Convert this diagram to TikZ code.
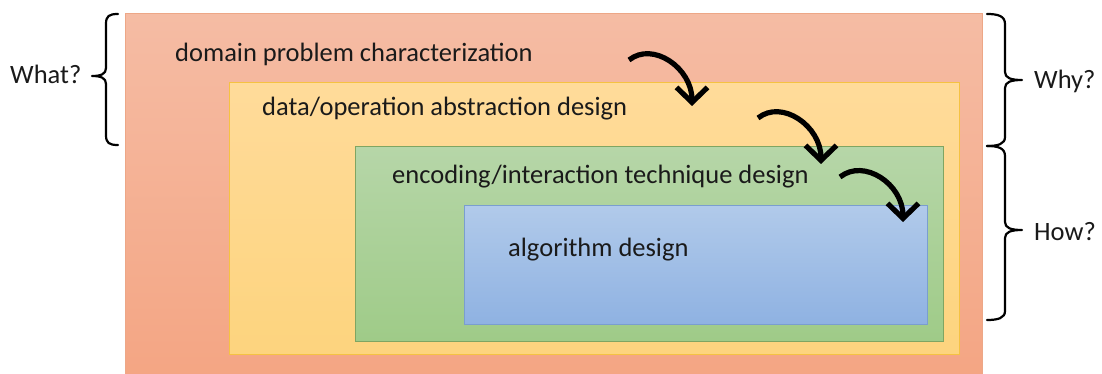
\documentclass[tikz,border=0pt]{standalone}
\usepackage{fontspec}
\setmainfont{Carlito}
\usetikzlibrary{arrows.meta}
\definecolor{txt}{HTML}{1A1A1A}
\definecolor{orTop}{HTML}{F5BCA4}
\definecolor{orBot}{HTML}{F4A583}
\definecolor{orLine}{HTML}{EDA787}
\definecolor{yeTop}{HTML}{FFDB9A}
\definecolor{yeBot}{HTML}{FDD47E}
\definecolor{yeLine}{HTML}{F5C242}
\definecolor{grTop}{HTML}{B6D6A8}
\definecolor{grBot}{HTML}{9FCB88}
\definecolor{grLine}{HTML}{7FA562}
\definecolor{blTop}{HTML}{B1CAEA}
\definecolor{blBot}{HTML}{8FB2E2}
\definecolor{blLine}{HTML}{7A9ECF}
\tikzset{
  layerbox/.style={line width=1pt},
  lab/.style={font=\fontsize{26.5}{30}\selectfont, text=txt, inner sep=0pt, anchor=base west},
  side/.style={font=\fontsize{26.5}{30}\selectfont, text=txt, inner sep=0pt, anchor=base west},
  flow/.style={line width=5.2pt, -{Straight Barb[length=15pt,width=31pt,line width=5.2pt]}},
  bracestroke/.style={line width=2.2pt, line cap=round, line join=round},
}
\begin{document}
\begin{tikzpicture}[x=1pt,y=-1pt]
\useasboundingbox (0,0) rectangle (1102,374);
\clip (0,0) rectangle (1102,374);
\fill[white] (0,0) rectangle (1102,374);
% layers
\path[layerbox, draw=orLine, top color=orTop, bottom color=orBot] (125,14) rectangle (982,380);
\path[layerbox, draw=yeLine, top color=yeTop, bottom color=yeBot] (229,83) rectangle (959,354);
\path[layerbox, draw=grLine, top color=grTop, bottom color=grBot] (355,147) rectangle (943,341);
\path[layerbox, draw=blLine, top color=blTop, bottom color=blBot] (464,205) rectangle (927,324);
% labels
\node[lab] (dom) at (175,62) {domain problem characterization};
\node[lab] (dat) at (262,116) {data/operation abstraction design};
\node[lab] (enc) at (392,183) {encoding/interaction technique design};
\node[lab] (alg) at (508,256) {algorithm design};
% arrows
\coordinate (a1s) at (629,60);  \coordinate (a1e) at (692,106);
\coordinate (a2s) at (758,118); \coordinate (a2e) at (821,164);
\coordinate (a3s) at (840,177); \coordinate (a3e) at (903,222);
\draw[flow] (a1s) .. controls ++(24,-19) and ++(0,-38) .. (a1e);
\draw[flow] (a2s) .. controls ++(24,-19) and ++(0,-38) .. (a2e);
\draw[flow] (a3s) .. controls ++(24,-19) and ++(0,-38) .. (a3e);
% braces
\draw[bracestroke] (118,14) .. controls (109,14) and (106,16) .. (106,24) -- (106,68)
  .. controls (106,74) and (101,76) .. (92,76)
  .. controls (101,76) and (106,78) .. (106,84) -- (106,135)
  .. controls (106,143) and (109,145) .. (118,145);
\draw[bracestroke] (987,14) .. controls (998,14) and (1005,16) .. (1005,24) -- (1005,72)
  .. controls (1005,78) and (1011,80) .. (1022,80)
  .. controls (1011,80) and (1005,82) .. (1005,88) -- (1005,137)
  .. controls (1005,144) and (998,146) .. (987,146);
\draw[bracestroke] (987,146) .. controls (998,146) and (1005,148) .. (1005,156) -- (1005,222)
  .. controls (1005,228) and (1011,230) .. (1022,230)
  .. controls (1011,230) and (1005,232) .. (1005,238) -- (1005,311)
  .. controls (1005,318) and (998,320) .. (987,320);
\node[side] (what) at (10,84) {What?};
\node[side] (why) at (1034,89) {Why?};
\node[side] (how) at (1034,240) {How?};
\end{tikzpicture}
\end{document}
